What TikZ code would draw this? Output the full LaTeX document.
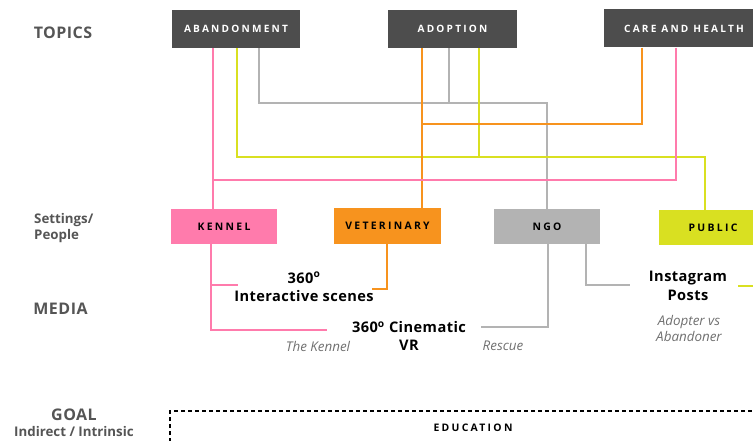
\documentclass[tikz,border=0pt]{standalone}
\usepackage{fontspec}
\setmainfont{Open Sans}
\newfontfamily\spacedfont[LetterSpace=22]{Open Sans}
\newfontfamily\trackedfont[LetterSpace=3]{Open Sans}

\definecolor{topicgray}{HTML}{4D4D4D}
\definecolor{labelgray}{HTML}{555555}
\definecolor{notegray}{HTML}{707070}
\definecolor{kennelpink}{HTML}{FF7BAC}
\definecolor{vetorange}{HTML}{F7931E}
\definecolor{ngogray}{HTML}{B3B3B3}
\definecolor{publime}{HTML}{D9E021}

\begin{document}
\begin{tikzpicture}[x=1pt,y=-1pt,
	topic/.style={fill=topicgray,text=white,minimum width=128,minimum height=38,inner sep=0,font=\spacedfont\bfseries\fontsize{10.1}{10}\selectfont},
	setting/.style={minimum width=106,minimum height=35,inner sep=0,text=black,font=\spacedfont\bfseries\fontsize{10.4}{10}\selectfont},
	rowlabel/.style={text=labelgray,inner sep=0,font=\trackedfont\bfseries\fontsize{16}{18}\selectfont},
	sublabel/.style={text=labelgray,inner sep=0,align=left,font=\bfseries\fontsize{13.3}{16}\selectfont},
	media/.style={text=black,inner sep=0,align=center,font=\trackedfont\bfseries\fontsize{14.6}{18.5}\selectfont},
	note/.style={text=notegray,inner sep=0,align=center,font=\itshape\fontsize{13.4}{16}\selectfont},
	wire/.style={line width=1.8},
	pinkline/.style={wire,kennelpink},
	orangeline/.style={wire,vetorange},
	grayline/.style={wire,ngogray},
	limeline/.style={wire,publime}]
	\useasboundingbox (0,0) rectangle (753,441);

	\node[rowlabel] (topics) at (63,33) {TOPICS};
	\node[sublabel,anchor=west] (people) at (34,228) {Settings/\\People};
	\node[rowlabel] (medialbl) at (60.5,309) {MEDIA};
	\node[rowlabel] (goal) at (74,415) {GOAL};
	\node[sublabel] (intrinsic) at (74,432) {Indirect / Intrinsic};

	\node[topic] (aband) at (236,29) {ABANDONMENT};
	\node[topic,minimum width=129] (adopt) at (452.5,29) {ADOPTION};
	\node[topic,minimum width=160] (care) at (684,28.5) {CARE AND HEALTH};

	\node[setting,fill=kennelpink] (kennel) at (224,226.5) {KENNEL};
	\node[setting,fill=vetorange,minimum width=107] (vet) at (387.5,226) {VETERINARY};
	\node[setting,fill=ngogray] (ngo) at (547,226.5) {NGO};
	\node[setting,fill=publime,minimum width=108] (public) at (713,227.5) {PUBLIC};

	\coordinate (graybus) at (547,103);
	\coordinate (orangejoin) at (422,124);
	\coordinate (yelbus) at (705,157);
	\coordinate (pinkjoin) at (213,180);

	\draw[grayline] ([xshift=23]aband.south) |- (graybus) -- (ngo.north);
	\draw[grayline] ([xshift=-3.5]adopt.south) |- (graybus);
	\draw[limeline] ([xshift=1]aband.south) |- (yelbus) -- ([xshift=-8]public.north);
	\draw[limeline] ([xshift=26.5]adopt.south) |- (yelbus);
	\draw[orangeline] ([xshift=-30.5]adopt.south) -- ([xshift=34.5]vet.north);
	\draw[orangeline] ([xshift=-42]care.south) |- (orangejoin);
	\draw[pinkline] ([xshift=-23]aband.south) -- ([xshift=-11]kennel.north);
	\draw[pinkline] ([xshift=-8]care.south) |- (pinkjoin);

	\node[media] (interact) at (304,287) {360\textsuperscript{o}\\Interactive scenes};
	\node[media] (cine) at (409,336) {360\textsuperscript{o} Cinematic\\VR};
	\node[media] (insta) at (688,286) {Instagram\\Posts};
	\node[note] (kennelnote) at (318,346) {The Kennel};
	\node[note] (rescue) at (503,346) {Rescue};
	\node[note] (adopter) at (689,328) {Adopter vs\\Abandoner};

	\coordinate (kenint) at (238,285);
	\coordinate (kenvr) at (327,330);
	\coordinate (vetint) at (372,289);
	\coordinate (ngovr) at (481,327);
	\coordinate (ngoinsta) at (630,285);
	\coordinate (pubinsta) at (738,286);

	\draw[pinkline] ([xshift=-13]kennel.south) |- (kenvr);
	\draw[pinkline] ([xshift=-13]kennel.south) |- (kenint);
	\draw[orangeline] ([xshift=-0.5]vet.south) |- (vetint);
	\draw[grayline] ([xshift=1]ngo.south) |- (ngovr);
	\draw[grayline] ([xshift=39]ngo.south) |- (ngoinsta);
	\draw[limeline] ([xshift=57]public.south) |- (pubinsta);

	\draw[line width=1.2,dash pattern=on 4 off 3] (170,470) |- (780,411);
	\node[setting,minimum width=0,minimum height=0] (edu) at (473,428) {EDUCATION};
\end{tikzpicture}
\end{document}
